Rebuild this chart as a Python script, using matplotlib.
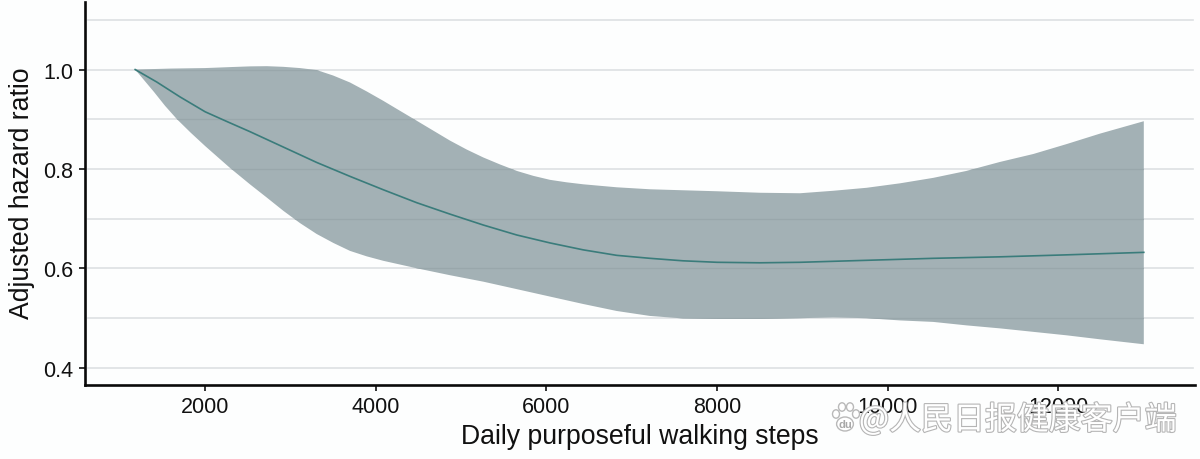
import matplotlib
matplotlib.use("Agg")
import matplotlib.pyplot as plt
import matplotlib.patheffects as pe
from matplotlib.patches import Ellipse, Polygon

upper_x = [1180, 1600, 2000, 2300, 2525, 2724, 2916, 3110, 3307, 3500, 3697, 3893, 4088, 4283, 4479, 4674, 4869, 5065, 5260, 5455, 5651, 5846, 6041, 6236, 6432, 6823, 7213, 7600, 8000, 8500, 8971, 9362, 9752, 10143, 10533, 10924, 11314, 11705, 12096, 12486, 13000]
upper_y = [1.0, 1.002, 1.003, 1.005, 1.0064, 1.0068, 1.0055, 1.003, 0.999, 0.988, 0.974, 0.956, 0.937, 0.917, 0.897, 0.877, 0.857, 0.839, 0.823, 0.809, 0.796, 0.786, 0.778, 0.773, 0.769, 0.763, 0.759, 0.757, 0.755, 0.752, 0.751, 0.756, 0.762, 0.771, 0.782, 0.796, 0.814, 0.830, 0.850, 0.871, 0.896]
lower_x = [1180, 1400, 1530, 1670, 1830, 2000, 2291, 2525, 2721, 2916, 3111, 3307, 3502, 3697, 3893, 4088, 4479, 4869, 5260, 5651, 6041, 6432, 6823, 7213, 7600, 8000, 8500, 8971, 9362, 9752, 10143, 10533, 10924, 11314, 11705, 12096, 12486, 13000]
lower_y = [1.0, 0.955, 0.927, 0.90, 0.873, 0.846, 0.802, 0.769, 0.7425, 0.7157, 0.691, 0.669, 0.651, 0.635, 0.624, 0.615, 0.600, 0.586, 0.573, 0.558, 0.543, 0.528, 0.514, 0.504, 0.499, 0.498, 0.498, 0.4995, 0.501, 0.4995, 0.495, 0.492, 0.485, 0.479, 0.472, 0.465, 0.457, 0.447]
mid_x = [1180, 1432, 1705, 2000, 2260, 2525, 2916, 3307, 3697, 4088, 4479, 4869, 5260, 5651, 6041, 6432, 6823, 7213, 7600, 8000, 8500, 8971, 9752, 10533, 11314, 12096, 13000]
mid_y = [1.0, 0.975, 0.945, 0.915, 0.895, 0.875, 0.844, 0.813, 0.785, 0.758, 0.732, 0.709, 0.687, 0.667, 0.651, 0.637, 0.626, 0.620, 0.615, 0.612, 0.611, 0.612, 0.616, 0.620, 0.623, 0.627, 0.632]
x_ticks = [2000, 4000, 6000, 8000, 10000, 12000]
y_ticks = [0.4, 0.6, 0.8, 1.0]
grid_levels = [0.4, 0.5, 0.6, 0.7, 0.8, 0.9, 1.0, 1.1]

plt.rcParams["font.family"] = ["Liberation Sans", "DejaVu Sans"]
W, H = 1200, 460
fig = plt.figure(figsize=(W / 100, H / 100), dpi=100, facecolor="#fdfefe")
ax = fig.add_axes([84.5 / W, 1 - 385.5 / H, (1195 - 84.5) / W, (385.5 - 3) / H], facecolor="#fdfefe")

for g in grid_levels:
    ax.axhline(g, xmin=0.003, xmax=0.998, color="#dde0e3", lw=1.2, zorder=1)
band = Polygon(list(zip(upper_x + lower_x[::-1], upper_y + lower_y[::-1])), closed=True,
               fc="#a3b1b5", ec="none", zorder=2)
ax.add_patch(band)
for g in grid_levels:
    faint = ax.axhline(g, color="#99a7ab", lw=0.9, zorder=2.5)
    faint.set_clip_path(band)
ax.plot(mid_x, mid_y, color="#3a7c7b", lw=1.2, zorder=3)

ax.set_xlim(586, 13600)
ax.set_ylim(0.366, 1.136)
ax.set_xticks(x_ticks)
ax.set_yticks(y_ticks)
ax.set_yticklabels([f"{v:.1f}" for v in y_ticks])
ax.tick_params(axis="both", length=4, width=1.2, color="#111111", labelsize=15.5, labelcolor="#111111", pad=4)
for s in ("top", "right"):
    ax.spines[s].set_visible(False)
for s in ("left", "bottom"):
    ax.spines[s].set_linewidth(1.9)
    ax.spines[s].set_color("#0a0a0a")
ax.set_xlabel("Daily purposeful walking steps", fontsize=19.2, color="#111111")
ax.xaxis.set_label_coords((639.5 - 84.5) / (1195 - 84.5), -(437 - 385.5) / (385.5 - 3), transform=ax.transAxes)
ax.xaxis.label.set_va("center")
ax.set_ylabel("Adjusted hazard ratio", fontsize=19.2, color="#111111")
ax.yaxis.set_label_coords(-(84.5 - 22) / (1195 - 84.5), (385.5 - 193) / (385.5 - 3), transform=ax.transAxes)
ax.yaxis.label.set_va("center")

fig.text(1018 / W, 1 - 421 / H, "@人民日报健康客户端", fontsize=23, color="#ffffff", ha="center", va="center",
         family=["Noto Sans CJK SC", "DejaVu Sans"], path_effects=[pe.Stroke(linewidth=1.6, foreground="#b5b5b5"), pe.Normal()])
paw = [(845, 425, 12, 10), (836, 415, 5, 6), (842, 408, 5, 6), (850, 408, 5, 6), (856, 415, 5, 6)]
for px, py, w, h in paw:
    fig.add_artist(Ellipse((px / W, 1 - py / H), w / W * 1.4, h / H * 1.4, transform=fig.transFigure,
                           fc="#ffffff", ec="#b9b9b9", lw=1.0))
fig.text(845 / W, 1 - 425 / H, "du", fontsize=8, color="#a8a8a8", ha="center", va="center", weight="bold")

fig.savefig("out.png", dpi=100, facecolor=fig.get_facecolor())
